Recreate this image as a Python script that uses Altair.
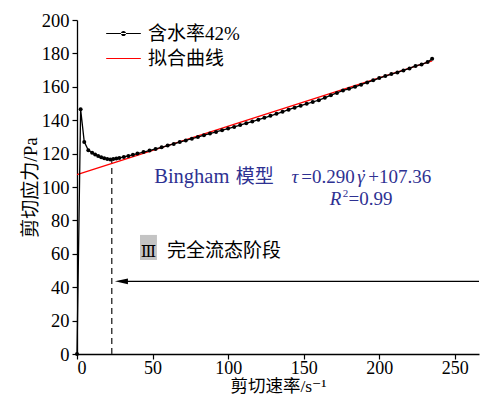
import altair as alt
import pandas as pd

# ---------------- data ----------------
series_names = ["含水率42%", "拟合曲线"]

shear_rate = [0, 2.4, 4.8, 7.5, 10, 12, 14, 16, 18, 20, 22, 24, 26, 28, 31, 34, 37, 40,
              44, 48, 52, 56, 60, 64, 68, 72, 76, 80, 84, 88, 92, 96, 100, 104, 108,
              112, 116, 120, 124, 128, 132, 136, 140, 144, 148, 152, 156, 160, 164,
              168, 172, 176, 180, 184, 188, 192, 196, 200, 204, 208, 212, 216, 220,
              224, 228, 232, 235]
shear_stress = [0, 146.5, 127, 122, 120.5, 119.5, 118.5, 117.8, 117.2, 116.8, 116.5, 116.7,
                117, 117.4, 118, 118.6, 119.3, 120, 120.9, 121.8, 122.8, 123.8, 124.8,
                125.8, 126.9, 127.9, 128.9, 129.9, 131, 132, 133, 134, 135, 136, 137.1,
                138.2, 139.2, 140.3, 141.4, 142.6, 143.8, 145, 146.3, 147.5, 148.7,
                149.8, 150.9, 152, 153.4, 155, 156.3, 157.8, 158.8, 160, 161.3, 162.6,
                163.9, 165.2, 166.4, 167.6, 168.6, 169.8, 171, 172.5, 173.4, 174.8, 176.8]

fit_x = [0, 235]
fit_y = [107.36, 175.51]

x_ticks = [0, 50, 100, 150, 200, 250]
y_ticks = [0, 20, 40, 60, 80, 100, 120, 140, 160, 180, 200]

x_max = 266
transition_rate = 23        # dashed line position
transition_stress = 116.5
arrow_level = 43.5
arrow_start = x_max
arrow_tip = 25.1

blue = "#2e3192"
serif = "Liberation Serif, DejaVu Serif, Noto Sans CJK SC"

# ---------------- scales ----------------
xs = alt.Scale(domain=[0, x_max], nice=False)
ys = alt.Scale(domain=[0, 200], nice=False)

xaxis = alt.Axis(values=x_ticks, title="剪切速率/s⁻¹", grid=False, tickSize=5,
                 labelFontSize=18, titleFontSize=17.5, labelPadding=0, titlePadding=0,
                 labelOverlap=False)
yaxis = alt.Axis(values=y_ticks, title="剪切应力/Pa", grid=False, tickSize=5,
                 labelFontSize=18.5, titleFontSize=19, labelPadding=3, titlePadding=1,
                 labelOverlap=False)

data_df = pd.DataFrame({"x": shear_rate, "y": shear_stress})
fit_df = pd.DataFrame({"x": fit_x, "y": fit_y})

base_x = alt.X("x:Q", scale=xs, axis=xaxis)
base_y = alt.Y("y:Q", scale=ys, axis=yaxis)

# dashed vertical transition line
dash_df = pd.DataFrame({"x": [transition_rate], "y": [0], "y2": [transition_stress]})
dash = alt.Chart(dash_df).mark_rule(color="#333333", strokeWidth=1.4, strokeDash=[6, 4]).encode(
    x=base_x, y=base_y, y2="y2:Q")

# arrow
arrow_df = pd.DataFrame({"x": [arrow_start], "x2": [arrow_tip + 3], "y": [arrow_level]})
arrow_line = alt.Chart(arrow_df).mark_rule(color="black", strokeWidth=1.2).encode(
    x=base_x, x2="x2:Q", y=base_y)
head_df = pd.DataFrame({"x": [arrow_tip + 4.3], "y": [arrow_level]})
arrow_head = alt.Chart(head_df).mark_point(
    shape="M-1,0 L1,-0.45 L1,0.45 Z", filled=True, size=169, color="black", opacity=1,
    strokeWidth=0).encode(x=base_x, y=base_y)

# fit line
fit_line = alt.Chart(fit_df).mark_line(color="red", strokeWidth=1.3).encode(x=base_x, y=base_y)

# measured data
data_line = alt.Chart(data_df).mark_line(color="black", strokeWidth=1.3).encode(x=base_x, y=base_y)
data_pts = alt.Chart(data_df).mark_point(filled=True, size=16, color="black", opacity=1,
                                        strokeWidth=0).encode(x=base_x, y=base_y)

# legend (only scales, no visible marks)
legend_df = pd.DataFrame({"s": series_names, "x": [0, 0], "y": [0, 0]})
legend_layer = alt.Chart(legend_df).transform_filter(alt.datum.s == "__none__").mark_point(
    filled=True, opacity=1, strokeWidth=0).encode(
    x=base_x, y=base_y,
    color=alt.Color("s:N", scale=alt.Scale(domain=series_names, range=["black", "red"]),
                    legend=alt.Legend(title=None, orient="none", legendX=37, legendY=4,
                                      labelFontSize=19, labelFont=serif, symbolSize=300,
                                      labelOffset=15, rowPadding=5, padding=0,
                                      symbolStrokeWidth=0, labelColor="black")),
    shape=alt.Shape("s:N", scale=alt.Scale(
        domain=series_names,
        range=["M-2,-0.07 L2,-0.07 L2,0.07 L-2,0.07 Z M-0.3,0 A0.3,0.3 0 1,0 0.3,0 A0.3,0.3 0 1,0 -0.3,0 Z",
               "M-2,-0.07 L2,-0.07 L2,0.07 L-2,0.07 Z"]),
        legend=alt.Legend(title=None, orient="none", legendX=37, legendY=4)),
)

# annotation texts (Bingham model)
txt_df = pd.DataFrame({
    "x": [51.1, 105.0, 142.0, 148.4, 185.4, 192.8, 167.3, 179.6, 187.6],
    "y": [102.6, 102.6, 102.6, 102.6, 102.6, 102.6, 89.2, 89.2, 102.6],
    "t": ["Bingham", "模型", "τ", "=0.290", "γ", "+107.36", "R", "=0.99", "˙"],
    "st": ["normal", "normal", "italic", "normal", "italic", "normal", "italic", "normal", "normal"],
    "fs": [20.5, 19, 19, 19, 19, 19, 19, 19, 19],
})
texts = []
for style in ["normal", "italic"]:
    sub = txt_df[txt_df.st == style]
    texts.append(alt.Chart(sub).mark_text(align="left", baseline="alphabetic",
                                          font=serif, fontStyle=style, color=blue).encode(
        x=base_x, y=base_y, text="t:N",
        size=alt.Size("fs:Q", scale=None, legend=None)))
small_df = pd.DataFrame({"x": [175.8], "y": [94.3], "t": ["2"]})
texts.append(alt.Chart(small_df).mark_text(align="left", baseline="alphabetic", fontSize=11,
                                           font=serif, color=blue).encode(
    x=base_x, y=base_y, text="t:N"))

# stage label
box_df = pd.DataFrame({"x": [41.7], "x2": [52.9], "y": [56.3], "y2": [71.3]})
box = alt.Chart(box_df).mark_rect(color="#c4c4c4").encode(x=base_x, x2="x2:Q", y=base_y, y2="y2:Q")
roman_df = pd.DataFrame({"x": [47.3], "y": [58.0], "t": ["Ⅲ"]})
roman = alt.Chart(roman_df).mark_text(align="center", baseline="alphabetic", fontSize=16,
                                      font=serif, color="black").encode(
    x=base_x, y=base_y, text="t:N")
stage_df = pd.DataFrame({"x": [59.5], "y": [58.0], "t": ["完全流态阶段"]})
stage = alt.Chart(stage_df).mark_text(align="left", baseline="alphabetic", fontSize=19,
                                      font=serif, color="black").encode(
    x=base_x, y=base_y, text="t:N")

chart = alt.layer(dash, arrow_line, arrow_head, fit_line, data_line, data_pts, legend_layer,
                  *texts, box, roman, stage).properties(
    width=402, height=334, background="white",
    autosize=alt.AutoSizeParams(type="none"),
    padding={"left": 69, "top": 12, "right": 1, "bottom": 41},
).configure_view(stroke=None).configure_axis(
    domainColor="black", domainWidth=1.3, tickColor="black", tickWidth=1.2,
    labelColor="black", titleColor="black", labelFont=serif, titleFont=serif,
    titleFontWeight="normal",
)

chart.save("out.html", embed_options={"renderer": "svg", "actions": False})
